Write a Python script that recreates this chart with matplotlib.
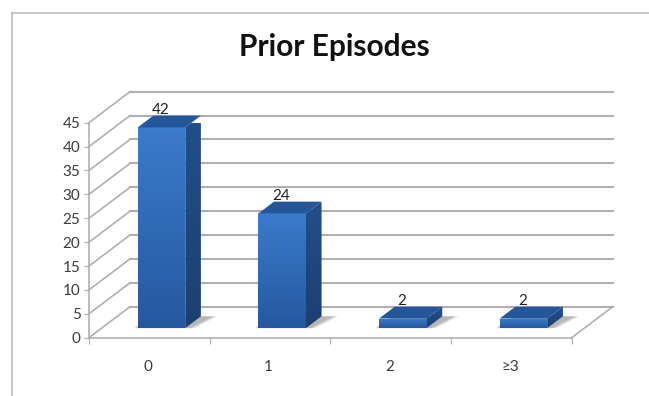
import numpy as np
import matplotlib
matplotlib.use("Agg")
import matplotlib.pyplot as plt
from matplotlib.colors import LinearSegmentedColormap
from matplotlib.lines import Line2D
from matplotlib.patches import Polygon
from matplotlib.transforms import ScaledTranslation

categories = ["0", "1", "2", "≥3"]
episodes = [42, 24, 2, 2]
value_ticks = [0, 5, 10, 15, 20, 25, 30, 35, 40, 45]

# shear of the 3D box, in category and value units
DEPTH_X = 0.34
DEPTH_Y = 6.49
BAR_FRONT = 0.31
BAR_BACK = 0.69
BAR_LEFT = 0.2985
BAR_WIDTH = 0.394

GRID = "#b0b0b0"
TEXT = "#3c3c3c"

plt.rcParams["font.family"] = ["Lato", "DejaVu Sans"]

fig = plt.figure(figsize=(6.49, 3.96), dpi=100, facecolor="white")
ax = fig.add_axes([89 / 649, (396 - 337.7) / 396, 482.7 / 649, 215 / 396])
ax.patch.set_alpha(0)


def proj(x, v, d):
    return (x + d * DEPTH_X, v + d * DEPTH_Y)


def gradient_face(corners, top, bottom, z):
    poly = Polygon(corners, closed=True, transform=ax.transData, facecolor="none", edgecolor="none")
    ax.add_patch(poly)
    xs = [c[0] for c in corners]
    ys = [c[1] for c in corners]
    cmap = LinearSegmentedColormap.from_list("face", [bottom, top])
    grad = np.linspace(1, 0, 64).reshape(-1, 1)
    img = ax.imshow(grad, cmap=cmap, vmin=0, vmax=1, aspect="auto", zorder=z,
                    extent=[min(xs), max(xs), min(ys), max(ys)])
    img.set_clip_path(poly)


# walls and floor
for v in value_ticks:
    x0, y0 = proj(0, v, 1)
    ax.plot([0, x0], [v, y0], color=GRID, lw=1.2, clip_on=False, zorder=1)
    ax.plot([x0, proj(len(categories), v, 1)[0]], [y0, y0], color=GRID, lw=1.5, clip_on=False, zorder=1)
x_end, y_end = proj(len(categories), 0, 1)
ax.plot([len(categories), x_end], [0, y_end], color=GRID, lw=1.2, clip_on=False, zorder=1)

for i, val in enumerate(episodes):
    left = i + BAR_LEFT
    right = left + BAR_WIDTH

    # soft shadow on the floor
    for grow in np.linspace(0, 1, 7):
        sl = left - 0.035 * grow
        sr = right + 0.09 + 0.05 * grow
        ax.add_patch(Polygon([proj(sl, 0, BAR_FRONT), proj(sr - 0.06, 0, BAR_FRONT),
                              proj(sr, 0, BAR_BACK), proj(sl, 0, BAR_BACK)],
                             closed=True, facecolor="#505050", edgecolor="none",
                             alpha=0.07, zorder=2, clip_on=False))

    gradient_face([proj(left, 0, BAR_FRONT), proj(right, 0, BAR_FRONT),
                   proj(right, val, BAR_FRONT), proj(left, val, BAR_FRONT)],
                  "#3a7bcb", "#26589f", 3)
    gradient_face([proj(right, 0, BAR_FRONT), proj(right, 0, BAR_BACK),
                   proj(right, val, BAR_BACK), proj(right, val, BAR_FRONT)],
                  "#224f8c", "#1c3f70", 3)
    ax.add_patch(Polygon([proj(left, val, BAR_FRONT), proj(right, val, BAR_FRONT),
                          proj(right, val, BAR_BACK), proj(left, val, BAR_BACK)],
                         closed=True, facecolor="#25569a", edgecolor="none", zorder=3, clip_on=False))

    lx, ly = proj(left + BAR_WIDTH / 2, val, BAR_FRONT)
    ax.annotate(str(val), (lx, ly), xytext=(-0.7, 12.6), textcoords="offset points",
                ha="center", va="center", fontsize=11, color="#222222", zorder=5)

ax.set_xlim(0, len(categories))
ax.set_ylim(0, 45)

ax.set_yticks(value_ticks)
ax.tick_params(axis="y", length=3.6, width=0.9, color=GRID, labelsize=11, labelcolor=TEXT, pad=2.5)

ax.set_xticks(range(len(categories) + 1))
ax.set_xticklabels([])
ax.set_xticks([i + 0.5 for i in range(len(categories))], minor=True)
ax.set_xticklabels(categories, minor=True)
ax.tick_params(axis="x", which="major", length=4, width=0.9, color=GRID)
ax.tick_params(axis="x", which="minor", length=0, labelsize=11, labelcolor=TEXT, pad=16)
nudge = ScaledTranslation(-1 / 72, 0, fig.dpi_scale_trans)
for lbl in ax.get_xticklabels(minor=True):
    lbl.set_transform(lbl.get_transform() + nudge)

for side in ["top", "right"]:
    ax.spines[side].set_visible(False)
for side in ["left", "bottom"]:
    ax.spines[side].set_color(GRID)
    ax.spines[side].set_linewidth(1.2)

fig.text(334 / 649, 1 - 47 / 396, "Prior Episodes", ha="center", va="center",
         fontsize=21.5, fontweight="bold", color="#111111")

# outer chart border, only left and top edges show
fig.add_artist(Line2D([11.5 / 649, 11.5 / 649], [0, 1 - 13 / 396], color="#b8b8b8", lw=1.1))
fig.add_artist(Line2D([11.5 / 649, 1], [1 - 13 / 396, 1 - 13 / 396], color="#b8b8b8", lw=1.1))

fig.savefig("out.png", dpi=100)
